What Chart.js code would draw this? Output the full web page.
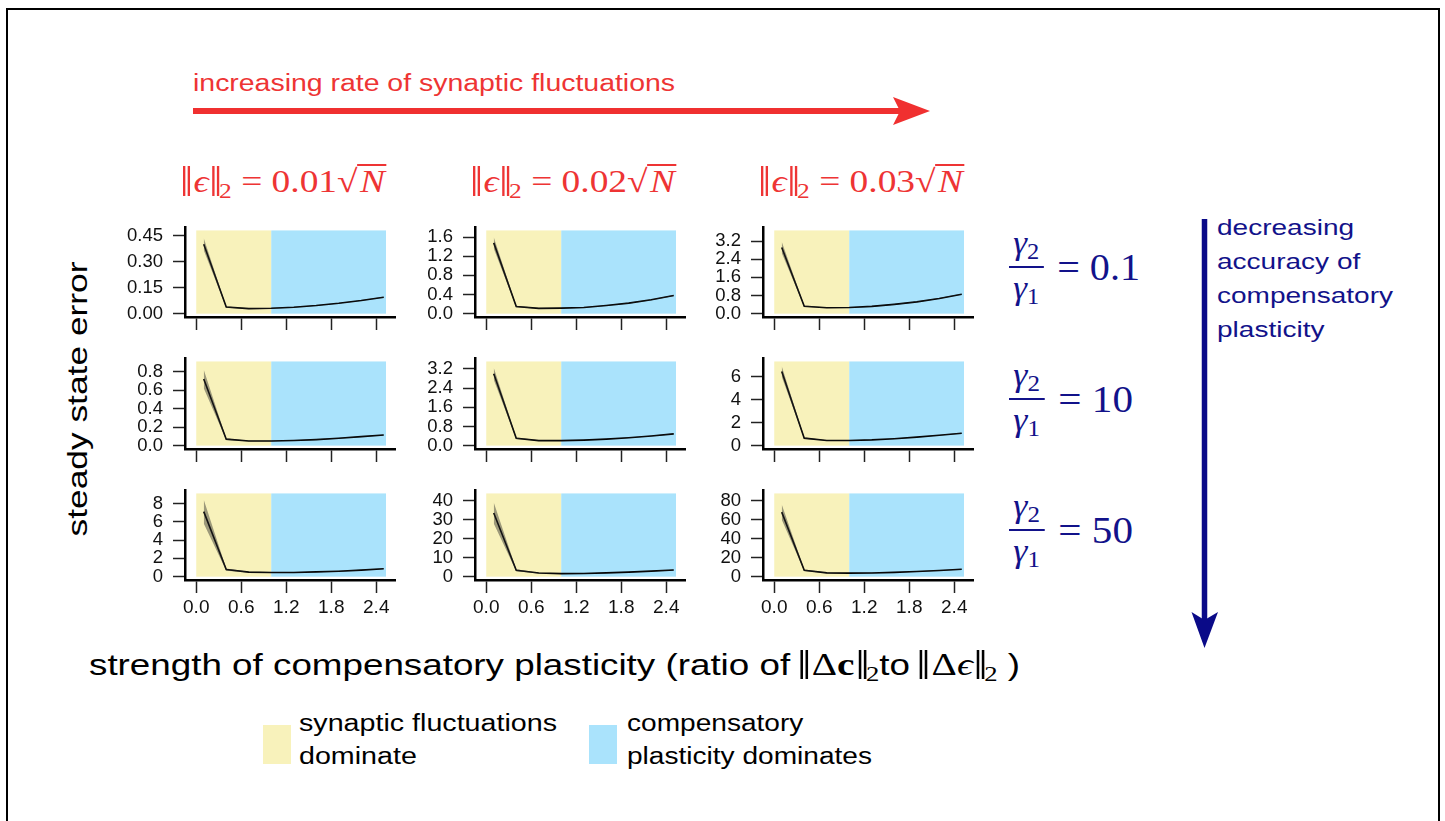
<!DOCTYPE html>
<html>
<head>
<meta charset="utf-8">
<script src="https://cdn.jsdelivr.net/npm/chart.js@4.4.1/dist/chart.umd.min.js"></script>
<style>
  body { margin: 0; background: #fff; width: 1445px; height: 821px; overflow: hidden; position: relative;
         font-family: "Liberation Sans", Arial, sans-serif; }
  .abs { position: absolute; white-space: nowrap; transform-origin: 0 0; }
  #frame { position: absolute; left: 6px; top: 8px; width: 1430px; height: 900px; border: 2px solid #000; }
  .red { color: #ee3434; }
  .navy { color: #12128a; }
  .serif { font-family: "Liberation Serif", "DejaVu Serif", serif; }
  .serif sub { font-size: 0.68em; vertical-align: -0.28em; }
  .norm { display: inline-block; line-height: 0.95; border-left: 6px double currentColor; border-right: 6px double currentColor; padding: 0 3px; }
  .rad { display: inline-block; border-top: 2px solid currentColor; line-height: 0.95; padding: 0 1px 0 2px; }
  .gam { display: flex; align-items: center; font-size: 38px; }
  .frac { display: inline-flex; flex-direction: column; align-items: center; font-size: 33px; line-height: 1.05; margin-right: 13px; }
  .frac .num { border-bottom: 2px solid currentColor; padding: 0 4px 3px 4px; }
  .frac .den { padding-top: 3px; }
  .frac sub { font-size: 0.7em; vertical-align: -0.2em; font-style: normal; }
  .swatch { position: absolute; width: 28px; height: 39px; }
  canvas { position: absolute; }
</style>
</head>
<body>
<div id="frame"></div>

<div id="title" class="abs red" style="left:193px; top:70px; font-size:23px;">increasing rate of synaptic fluctuations</div>
<svg class="abs" style="left:0; top:0;" width="1445" height="821">
  <line x1="193" y1="111" x2="900" y2="111" stroke="#f03030" stroke-width="6"/>
  <polygon points="893,97 930,111 893,125 900,111" fill="#f03030"/>
  <line x1="1204.5" y1="219" x2="1204.5" y2="622" stroke="#0a0a88" stroke-width="5.5"/>
  <polygon points="1191.5,612 1204.5,648 1218,612 1204.5,620" fill="#0a0a88"/>
</svg>

<div id="rightText" class="abs navy" style="left:1217px; top:211px; font-size:22.5px; line-height:34px;">decreasing<br>accuracy of<br>compensatory<br>plasticity</div>

<div id="yLabel" class="abs" style="left:78px; top:399px; font-size:28px; transform-origin:50% 50%;">steady state error</div>

<div id="xLabel" class="abs" style="left:89px; top:647px; font-size:29px;">strength of compensatory plasticity (ratio of <span class="serif" style="font-size:31px;"><span class="norm">Δ<b>c</b></span><sub>2</sub></span>to <span class="serif" style="font-size:31px;"><span class="norm">Δ<i>ϵ</i></span><sub>2</sub></span> )</div>

<div class="swatch" style="left:263px; top:725px; background:#f8f2bb;"></div>
<div id="legendA" class="abs" style="left:299px; top:707px; font-size:23.5px; line-height:33px;">synaptic fluctuations<br>dominate</div>
<div class="swatch" style="left:589px; top:725px; background:#aae3fc;"></div>
<div id="legendB" class="abs" style="left:627px; top:707px; font-size:23.5px; line-height:33px;">compensatory<br>plasticity dominates</div>

<script>
// x positions of the simulations (ratio of ||dc|| to ||de||)
const xValues = [0.1, 0.4, 0.7, 1.0, 1.3, 1.6, 1.9, 2.2, 2.5];
const xTicks = [0, 0.6, 1.2, 1.8, 2.4];

const noiseLevels = ["0.01", "0.02", "0.03"];
const gammaRatios = ["0.1", "10", "50"];

// shaded regimes along x
const regionStart = [0, 1.0];
const regionEnd = [1.0, 2.53];

// mean steady state error, one array per noise level (column)
const meanGamma01 = [
    [0.40, 0.038, 0.029, 0.031, 0.037, 0.047, 0.060, 0.076, 0.095],
    [1.48, 0.15, 0.11, 0.115, 0.13, 0.17, 0.22, 0.29, 0.38],
    [2.92, 0.33, 0.26, 0.27, 0.32, 0.41, 0.52, 0.67, 0.86],
];
const meanGamma10 = [
    [0.72, 0.07, 0.05, 0.05, 0.055, 0.065, 0.08, 0.097, 0.115],
    [3.0, 0.31, 0.21, 0.21, 0.23, 0.27, 0.33, 0.40, 0.49],
    [6.45, 0.65, 0.45, 0.45, 0.5, 0.6, 0.74, 0.9, 1.08],
];
const meanGamma50 = [
    [7.1, 0.78, 0.5, 0.45, 0.46, 0.52, 0.6, 0.72, 0.86],
    [33.5, 3.4, 1.9, 1.6, 1.7, 2.0, 2.4, 2.9, 3.5],
    [68, 6.8, 4.0, 3.7, 3.9, 4.5, 5.4, 6.5, 7.8],
];

// half width of the grey band around the mean
const spreadGamma01 = [
    [0.035, 0.004, 0.002, 0.002, 0.002, 0.002, 0.002, 0.002, 0.002],
    [0.12, 0.015, 0.006, 0.005, 0.005, 0.006, 0.007, 0.008, 0.009],
    [0.25, 0.03, 0.012, 0.01, 0.01, 0.012, 0.014, 0.016, 0.018],
];
const spreadGamma10 = [
    [0.1, 0.008, 0.003, 0.003, 0.003, 0.003, 0.003, 0.003, 0.003],
    [0.25, 0.03, 0.01, 0.008, 0.008, 0.009, 0.01, 0.011, 0.012],
    [0.45, 0.06, 0.02, 0.02, 0.02, 0.02, 0.02, 0.025, 0.03],
];
const spreadGamma50 = [
    [1.3, 0.12, 0.04, 0.03, 0.03, 0.03, 0.03, 0.03, 0.03],
    [5.5, 0.5, 0.2, 0.1, 0.1, 0.1, 0.1, 0.12, 0.14],
    [8, 0.8, 0.3, 0.2, 0.2, 0.2, 0.2, 0.25, 0.3],
];

// y tick labels
const ticksGamma01 = [[0, 0.15, 0.30, 0.45], [0, 0.4, 0.8, 1.2, 1.6], [0, 0.8, 1.6, 2.4, 3.2]];
const ticksGamma10 = [[0, 0.2, 0.4, 0.6, 0.8], [0, 0.8, 1.6, 2.4, 3.2], [0, 2, 4, 6]];
const ticksGamma50 = [[0, 2, 4, 6, 8], [0, 10, 20, 30, 40], [0, 20, 40, 60, 80]];

// upper end of the data range (top of the shading)
const topGamma01 = [0.48, 1.74, 3.67];
const topGamma10 = [0.91, 3.51, 7.32];
const topGamma50 = [9.09, 43.8, 87.7];

const meanRows = [meanGamma01, meanGamma10, meanGamma50];
const spreadRows = [spreadGamma01, spreadGamma10, spreadGamma50];
const tickRows = [ticksGamma01, ticksGamma10, ticksGamma50];
const topRows = [topGamma01, topGamma10, topGamma50];

// layout of the 3x3 grid (pixels)
const axisLeft = [185, 475, 763];
const axisTop = [227, 358, 490];
const axisBottom = [317, 449, 580];
const areaWidth = 210;
const yAxisWidth = 72;
const padTop = 12;
const xAxisHeight = 45;

const regionColors = ["#f8f2bb", "#aae3fc"];
const bandColor = "rgba(45, 45, 45, 0.45)";

Chart.defaults.font.family = '"Liberation Sans", Arial, sans-serif';
Chart.defaults.color = "#111";

const regionShading = {
    id: "regionShading",
    beforeDatasetsDraw(chart, args, opts) {
        const { ctx, scales: { x, y } } = chart;
        const top = y.getPixelForValue(opts.top);
        const bottom = y.getPixelForValue(0);
        ctx.save();
        regionStart.forEach((start, i) => {
            const left = x.getPixelForValue(start);
            const right = x.getPixelForValue(regionEnd[i]);
            ctx.fillStyle = regionColors[i];
            ctx.fillRect(left, top, right - left, bottom - top);
        });
        ctx.restore();
    }
};

function decimalsOf(ticks) {
    return ticks.reduce((m, v) => Math.max(m, (String(v).split(".")[1] || "").length), 0);
}

function panelConfig(row, col) {
    const mean = meanRows[row][col];
    const spread = spreadRows[row][col];
    const ticks = tickRows[row][col];
    const top = topRows[row][col];
    const decimals = decimalsOf(ticks);

    const upper = xValues.map((x, i) => ({ x, y: mean[i] + spread[i] }));
    const lower = xValues.map((x, i) => ({ x, y: Math.max(0, mean[i] - spread[i]) }));
    const line = xValues.map((x, i) => ({ x, y: mean[i] }));

    return {
        type: "line",
        data: {
            datasets: [
                { data: upper, borderColor: "transparent", pointRadius: 0, fill: false },
                { data: lower, borderColor: "transparent", pointRadius: 0, fill: "-1", backgroundColor: bandColor },
                { data: line, borderColor: "#000", borderWidth: 1.6, pointRadius: 0, fill: false },
            ],
        },
        options: {
            responsive: false,
            animation: false,
            layout: { padding: { top: padTop, right: 6, left: 0, bottom: 0 } },
            plugins: {
                legend: { display: false },
                tooltip: { enabled: false },
                regionShading: { top: top },
            },
            scales: {
                x: {
                    type: "linear",
                    min: -0.15,
                    max: 2.65,
                    afterFit: s => { s.height = xAxisHeight; },
                    afterBuildTicks: s => { s.ticks = xTicks.map(v => ({ value: v })); },
                    grid: { drawOnChartArea: false, tickLength: 13, tickWidth: 1.5, tickColor: "#222" },
                    border: { color: "#000", width: 2.5 },
                    ticks: {
                        display: row === 2,
                        padding: 3,
                        autoSkip: false,
                        maxRotation: 0,
                        font: { size: 19 },
                        callback: v => v.toFixed(1),
                    },
                },
                y: {
                    min: -0.04 * top,
                    max: 1.04 * top,
                    afterFit: s => { s.width = yAxisWidth; },
                    afterBuildTicks: s => { s.ticks = ticks.map(v => ({ value: v })); },
                    grid: { drawOnChartArea: false, tickLength: 12, tickWidth: 1.5, tickColor: "#222" },
                    border: { color: "#000", width: 2.5 },
                    ticks: {
                        padding: 10,
                        autoSkip: false,
                        font: { size: 18.5 },
                        callback: v => v.toFixed(decimals),
                    },
                },
            },
        },
        plugins: [regionShading],
    };
}

function makePanel(row, col) {
    const height = axisBottom[row] - axisTop[row];
    const canvas = document.createElement("canvas");
    document.body.appendChild(canvas);

    function place(extraTop, extraLeft) {
        canvas.width = yAxisWidth + areaWidth + 6;
        canvas.height = padTop + extraTop + height + xAxisHeight;
        canvas.style.width = canvas.width + "px";
        canvas.style.height = canvas.height + "px";
        canvas.style.left = (axisLeft[col] - yAxisWidth - extraLeft) + "px";
        canvas.style.top = (axisTop[row] - padTop - extraTop) + "px";
        return new Chart(canvas.getContext("2d"), panelConfig(row, col));
    }

    // first pass tells how much room Chart.js keeps above / left of the plot area
    let chart = place(0, 0);
    const extraTop = Math.round(chart.chartArea.top - padTop);
    const extraLeft = Math.round(chart.chartArea.left - yAxisWidth);
    if (extraTop !== 0 || extraLeft !== 0) {
        chart.destroy();
        chart = place(extraTop, extraLeft);
    }
}

for (let r = 0; r < 3; r++) {
    for (let c = 0; c < 3; c++) makePanel(r, c);
}

function fitWidth(el, target, extra) {
    const w = el.getBoundingClientRect().width;
    el.style.transform = (extra || "") + ` scaleX(${target / w})`;
}

// column headers: noise level
noiseLevels.forEach((level, c) => {
    const d = document.createElement("div");
    d.className = "abs red serif";
    d.style.left = (axisLeft[c] - 2) + "px";
    d.style.top = "163px";
    d.style.fontSize = "32px";
    d.innerHTML = `<span class="norm"><i>ϵ</i></span><sub>2</sub> = ${level}√<span class="rad"><i>N</i></span>`;
    document.body.appendChild(d);
    fitWidth(d, 203);
});

// row labels: gamma ratio
const gammaWidths = [131, 124, 124];
gammaRatios.forEach((ratio, r) => {
    const d = document.createElement("div");
    d.className = "abs navy serif gam";
    d.style.left = "1009px";
    document.body.appendChild(d);
    d.innerHTML = `<span class="frac"><span class="num"><i>γ</i><sub>2</sub></span><span class="den"><i>γ</i><sub>1</sub></span></span>= ${ratio}`;
    const h = d.getBoundingClientRect().height;
    d.style.top = ((axisTop[r] + axisBottom[r]) / 2 - 5 - h / 2) + "px";
    fitWidth(d, gammaWidths[r]);
});

fitWidth(document.getElementById("title"), 482);
fitWidth(document.getElementById("rightText"), 176);
fitWidth(document.getElementById("legendA"), 258);
fitWidth(document.getElementById("legendB"), 245);
fitWidth(document.getElementById("xLabel"), 931);

const yLabel = document.getElementById("yLabel");
const yw = yLabel.getBoundingClientRect().width;
yLabel.style.transform = `translate(-50%, -50%) rotate(-90deg) scaleX(${275 / yw})`;
</script>
</body>
</html>
